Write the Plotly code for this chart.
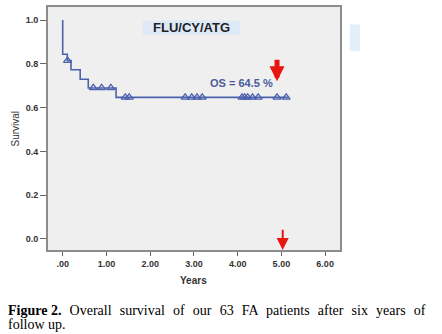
import plotly.graph_objects as go

# Kaplan-Meier step curve (years, survival)
step_times = [0.0, 0.0, 0.105, 0.19, 0.40, 0.585, 1.22, 5.16]
step_surv = [1.0, 0.844, 0.815, 0.773, 0.73, 0.69, 0.647, 0.647]

# censored observations
censor_times = [0.11, 0.70, 0.89, 1.10, 1.43, 1.52, 2.80, 2.95, 3.07, 3.19,
                4.10, 4.16, 4.23, 4.34, 4.47, 4.90, 5.11]
censor_surv = [0.815, 0.69, 0.69, 0.69, 0.647, 0.647, 0.647, 0.647, 0.647, 0.647,
               0.647, 0.647, 0.647, 0.647, 0.647, 0.647, 0.647]

x_ticks = [0, 1, 2, 3, 4, 5, 6]
x_ticklabels = [".00", "1.00", "2.00", "3.00", "4.00", "5.00", "6.00"]
y_ticks = [0.0, 0.2, 0.4, 0.6, 0.8, 1.0]
y_ticklabels = ["0.0", "0.2", "0.4", "0.6", "0.8", "1.0"]

group_label = "FLU/CY/ATG"
os_label = "OS = 64.5 %"
os_pos = (4.08, 0.712)
arrow_top = (4.90, 0.826, 0.72)
arrow_bottom = (5.03, 0.049, -0.051)

caption_bold = "Figure 2."
caption_line1_words = ["Overall", "survival", "of", "our", "63", "FA", "patients",
                       "after", "six", "years", "of"]
caption_line2 = "follow up."

blue = "#4d62ad"

fig = go.Figure()
fig.add_trace(go.Scatter(x=step_times, y=step_surv, mode="lines",
                         line=dict(shape="hv", color=blue, width=1.6),
                         hoverinfo="skip", showlegend=False))
fig.add_trace(go.Scatter(x=censor_times, y=censor_surv, mode="markers",
                         marker=dict(symbol="triangle-up-open", size=7,
                                     color=blue, line=dict(width=1.3, color=blue)),
                         showlegend=False))

tickfont = dict(family="Liberation Sans, Arial", size=9, color="#333333")
fig.update_xaxes(range=[-0.336, 6.34], tickvals=x_ticks,
                 ticktext=["<b>%s</b>" % t for t in x_ticklabels],
                 showgrid=False, zeroline=False, showline=True, mirror=True,
                 linecolor="#8c8c8c", linewidth=2, ticks="outside", ticklen=4,
                 tickcolor="#666666", tickfont=tickfont)
fig.update_yaxes(range=[-0.051, 1.06], tickvals=y_ticks,
                 ticktext=["<b>%s</b>" % t for t in y_ticklabels],
                 showgrid=False, zeroline=False, showline=True, mirror=True,
                 linecolor="#8c8c8c", linewidth=2, ticks="outside", ticklen=6,
                 tickcolor="#666666", tickfont=tickfont)

shapes = [
    dict(type="rect", xref="paper", yref="paper", x0=0.325, x1=0.658, y0=0.886, y1=0.943,
         fillcolor="#dde9f7", line=dict(width=0), layer="below"),
    dict(type="rect", xref="paper", yref="paper", x0=1.034, x1=1.068, y0=0.819, y1=0.928,
         fillcolor="#e3eefa", line=dict(width=0)),
]

gap = " \u2004"
line1 = "<b>" + caption_bold + "</b>" + gap + gap.join(caption_line1_words)

annotations = [
    dict(text="<b>" + group_label + "</b>", xref="paper", yref="paper", x=0.492, y=0.914,
         xanchor="center", yanchor="middle", showarrow=False,
         font=dict(family="Liberation Sans, Arial", size=13, color="#222222")),
    dict(text="<b>" + os_label + "</b>", x=os_pos[0], y=os_pos[1], showarrow=False,
         xanchor="center", yanchor="middle",
         font=dict(family="Liberation Sans, Arial", size=11, color="#4a5a9c")),
    dict(x=arrow_top[0], y=arrow_top[2], ax=arrow_top[0], ay=arrow_top[1], axref="x", ayref="y",
         showarrow=True, arrowhead=2, arrowsize=0.6, arrowwidth=5, arrowcolor="#e8140f", text=""),
    dict(x=arrow_bottom[0], y=arrow_bottom[2], ax=arrow_bottom[0], ay=arrow_bottom[1], axref="x", ayref="y",
         showarrow=True, arrowhead=2, arrowsize=1.2, arrowwidth=2, arrowcolor="#e8140f", text=""),
    dict(text="Survival", xref="paper", yref="paper", x=-0.113, y=0.5, textangle=-90,
         xanchor="center", yanchor="middle", showarrow=False,
         font=dict(family="Liberation Sans, Arial", size=10, color="#333333")),
    dict(text="<b>Years</b>", xref="paper", yref="paper", x=0.4966, y=-0.1265,
         xanchor="center", yanchor="middle", showarrow=False,
         font=dict(family="Liberation Sans, Arial", size=10, color="#333333")),
    dict(text=line1, xref="paper", yref="paper", x=-0.1438, y=-0.247, xanchor="left", yanchor="middle",
         showarrow=False, font=dict(family="Liberation Serif, Times New Roman", size=14, color="#000000")),
    dict(text=caption_line2, xref="paper", yref="paper", x=-0.1438, y=-0.306, xanchor="left",
         yanchor="middle", showarrow=False,
         font=dict(family="Liberation Serif, Times New Roman", size=14, color="#000000")),
]

fig.update_layout(width=442, height=334, margin=dict(l=48, r=102, t=5, b=84),
                  plot_bgcolor="#efefef", paper_bgcolor="#ffffff",
                  shapes=shapes, annotations=annotations)

fig.write_html("out.html")
